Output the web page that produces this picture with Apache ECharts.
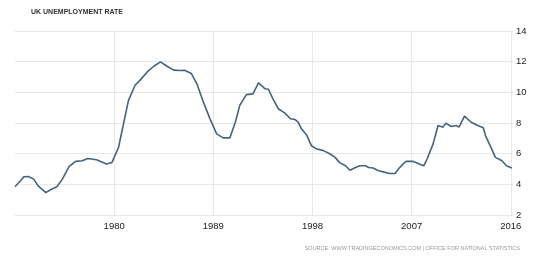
<!DOCTYPE html>
<html>
<head>
<meta charset="utf-8">
<script src="https://cdn.jsdelivr.net/npm/echarts@6/dist/echarts.min.js"></script>
<style>
html,body{margin:0;padding:0;background:#fff;}
#c{width:540px;height:256px;}
</style>
</head>
<body>
<div id="c"></div>
<script>
const years = [1971.0,1971.5,1971.8,1972.2,1972.7,1973.1,1973.8,1974.3,1974.8,1975.3,1975.9,1976.5,1977.1,1977.6,1978.4,1979.3,1979.8,1980.4,1980.85,1981.3,1981.9,1982.4,1983.0,1983.6,1984.2,1984.8,1985.4,1986.0,1986.4,1987.0,1987.5,1988.1,1988.7,1989.3,1989.9,1990.5,1991.0,1991.4,1992.0,1992.6,1993.1,1993.7,1994.0,1994.4,1994.9,1995.5,1996.0,1996.4,1996.7,1997.0,1997.5,1997.9,1998.4,1999.0,1999.6,2000.05,2000.5,2001.0,2001.4,2001.9,2002.3,2002.8,2003.1,2003.5,2004.0,2004.6,2005.0,2005.5,2005.8,2006.2,2006.5,2007.1,2007.7,2008.1,2008.4,2008.95,2009.4,2009.85,2010.1,2010.6,2011.05,2011.3,2011.8,2012.4,2013.0,2013.5,2013.7,2014.2,2014.6,2015.2,2015.6,2016.1];
const rates = [3.84,4.23,4.49,4.51,4.34,3.9,3.46,3.68,3.84,4.34,5.15,5.5,5.54,5.69,5.6,5.32,5.43,6.41,7.95,9.48,10.46,10.83,11.33,11.7,11.99,11.7,11.45,11.42,11.44,11.23,10.57,9.36,8.27,7.29,7.03,7.03,8.05,9.15,9.85,9.9,10.62,10.23,10.2,9.59,8.93,8.64,8.28,8.23,8.05,7.62,7.18,6.52,6.3,6.2,5.98,5.76,5.4,5.21,4.92,5.1,5.21,5.21,5.1,5.06,4.89,4.78,4.71,4.71,5.0,5.32,5.5,5.5,5.32,5.21,5.65,6.64,7.84,7.73,7.99,7.77,7.84,7.73,8.45,8.05,7.84,7.69,7.18,6.41,5.76,5.54,5.21,5.06];
const xTickYears = [1980,1989,1998,2007,2016];
const yTicks = [2,4,6,8,10,12,14];
const titleText = 'UK UNEMPLOYMENT RATE';
const sourceText = 'SOURCE: WWW.TRADINGECONOMICS.COM | OFFICE FOR NATIONAL STATISTICS';

const chart = echarts.init(document.getElementById('c'), null, {renderer:'canvas'});
const font = 'Liberation Sans, Arial, sans-serif';
chart.setOption({
  animation:false,
  backgroundColor:'#fff',
  title:[
    {text:titleText,left:31,top:9,padding:0,textStyle:{fontFamily:font,fontSize:7,fontWeight:'bold',color:'#333'}},
    {text:sourceText,right:20,top:245,padding:0,textStyle:{fontFamily:font,fontSize:5.5,fontWeight:'normal',color:'#999'}}
  ],
  grid:{left:15,right:27,top:31,bottom:41,containLabel:false},
  xAxis:{
    type:'value',min:1971,max:2016.2,interval:9,
    axisLine:{show:false},axisTick:{show:false},
    axisLabel:{
      margin:6,fontFamily:font,fontSize:9.5,color:'#222',
      showMinLabel:false,showMaxLabel:false,
      formatter:function(v){return xTickYears.indexOf(Math.round(v*10)/10)>=0?String(v):'';}
    },
    splitLine:{show:true,lineStyle:{color:['rgba(0,0,0,0)','#e8e8e8','#e8e8e8','#e8e8e8','#e8e8e8','#e8e8e8','rgba(0,0,0,0)'],width:1}}
  },
  yAxis:{
    type:'value',position:'right',min:yTicks[0],max:yTicks[yTicks.length-1],interval:2,
    axisLine:{show:false},axisTick:{show:false},
    axisLabel:{margin:3,fontFamily:font,fontSize:9.5,color:'#222'},
    splitLine:{show:true,lineStyle:{color:'#e8e8e8',width:1}}
  },
  series:[{
    type:'line',
    data:years.map((y,i)=>[y,rates[i]]),
    showSymbol:false,
    lineStyle:{color:'#44647f',width:1.6},
    smooth:false
  }]
});
</script>
</body>
</html>
